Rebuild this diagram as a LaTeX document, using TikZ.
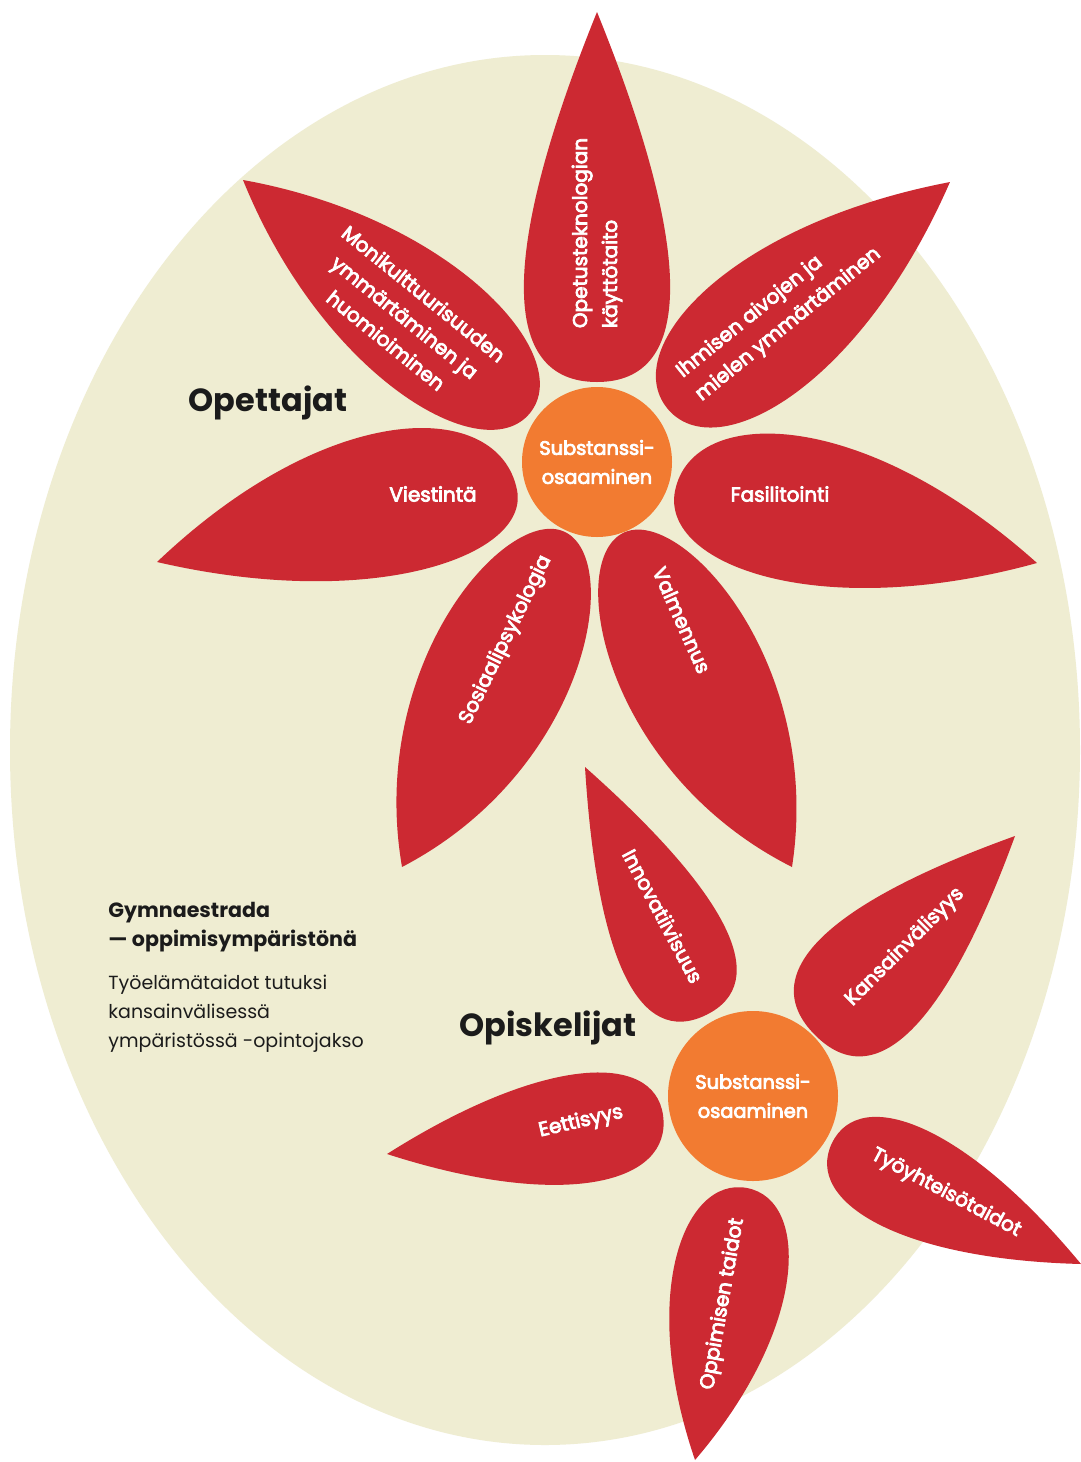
\documentclass[tikz,border=0pt]{standalone}
\usepackage{fontspec}
\setmainfont{Poppins}
\newfontfamily\lblfont{Poppins}[BoldFont={*}, BoldFeatures={FakeBold=4}]
\usetikzlibrary{calc}
\definecolor{petalred}{HTML}{CC2932}
\definecolor{bgbeige}{HTML}{EFEDD2}
\definecolor{centerorange}{HTML}{F27B31}
\definecolor{inkdark}{HTML}{1B1B1B}

% #1,#2 base (round end), #3,#4 tip, #5 half width (clockwise side), #6 half width (other side),
% #7 roundness of the base, #8 position of the widest part (fraction of length)
\newcommand\drawpetal[8]{%
  \pgfmathsetmacro\pL{veclen(#3-#1,#4-#2)}%
  \pgfmathsetmacro\pA{atan2(#2-#4,#3-#1)}%
  \pgfmathsetmacro\pKa{#7*#5}%
  \pgfmathsetmacro\pNa{(2.6-#7)*#5}%
  \pgfmathsetmacro\pKb{#7*#6}%
  \pgfmathsetmacro\pNb{(2.6-#7)*#6}%
  \pgfmathsetmacro\pM{#8*\pL}%
  \fill[petalred,shift={(#1,#2)},rotate=\pA] (0,0) .. controls (0,\pKa) and (\pM,\pNa) .. (\pL,0) .. controls (\pM,-\pNb) and (0,-\pKb) .. (0,0) -- cycle;%
}

\tikzset{
  lbl/.style={text=white, font=\lblfont\bfseries\fontsize{10}{15}\selectfont, align=center, inner sep=0pt},
  hub/.style={circle, fill=centerorange, text=white, font=\lblfont\bfseries\fontsize{9.7}{14.5}\selectfont, align=center, inner sep=0pt},
  title/.style={text=inkdark, font=\fontsize{16}{19}\selectfont\bfseries, inner sep=0pt},
}

\begin{document}
\begin{tikzpicture}[x=0.5pt,y=-0.5pt]
\useasboundingbox[fill=white] (0,0) rectangle (1081,1462);
\fill[bgbeige] (545,750) ellipse [x radius=535, y radius=695];

% upper flower petals
\drawpetal{597}{382}{597}{12}{75}{75}{1.3}{0.35}
\drawpetal{667}{408}{950}{182}{70}{70}{1.1}{0.45}
\drawpetal{530}{413}{243}{180}{68}{68}{1.1}{0.5}
\drawpetal{517}{490}{157}{562}{85}{61}{1.1}{0.45}
\drawpetal{675}{491}{1037}{563}{68}{80}{1.1}{0.45}
\drawpetal{565}{532}{402}{867}{71}{73}{0.9}{0.55}
\drawpetal{623}{533}{792}{867}{73}{71}{0.9}{0.55}

% lower flower petals
\drawpetal{706}{1015}{585}{767}{57}{57}{1.3}{0.35}
\drawpetal{815}{1035}{1015}{836}{66}{66}{1.3}{0.35}
\drawpetal{663}{1115}{387}{1154}{54}{58}{1.2}{0.4}
\drawpetal{832}{1143}{1081}{1264}{54}{54}{1.2}{0.4}
\drawpetal{747}{1188}{695}{1460}{58}{58}{1.1}{0.45}

% hubs
\node[hub, minimum size=75pt] (hubA) at (597,462) {Substanssi-\\osaaminen};
\node[hub, minimum size=85pt] (hubB) at (753,1096) {Substanssi-\\osaaminen};

% labels upper
\node[lbl, align=left, rotate=90] (lTop) at (597,233) {Opetusteknologian\\käyttötaito};
\node[lbl, rotate=-39] (lMoni) at (405,317) {Monikulttuurisuuden\\ymmärtäminen ja\\huomioiminen};
\node[lbl, align=left, rotate=39] (lIhm) at (779,313) {Ihmisen aivojen ja\\mielen ymmärtäminen};
\node[lbl] (lVie) at (433,494) {Viestintä};
\node[lbl] (lFas) at (780,494) {Fasilitointi};
\node[lbl, rotate=64] (lSos) at (506,640) {Sosiaalipsykologia};
\node[lbl, rotate=-66] (lVal) at (682,620) {Valmennus};

% labels lower
\node[lbl, rotate=-62] (lInn) at (663,916) {Innovatiivisuus};
\node[lbl, rotate=45] (lKan) at (905,947) {Kansainvälisyys};
\node[lbl, rotate=13] (lEet) at (581,1122) {Eettisyys};
\node[lbl, rotate=-28] (lTyo) at (946,1193) {Työyhteisötaidot};
\node[lbl, rotate=80] (lOpp) at (723,1304) {Oppimisen taidot};

% titles
\node[title] (tOpe) at (268,403) {Opettajat};
\node[title] (tOpi) at (548,1028) {Opiskelijat};

% info block
\node[anchor=north west, align=left, inner sep=0pt, text=inkdark, font=\fontsize{10.3}{14.3}\selectfont\bfseries] (info1) at (108,902) {Gymnaestrada\\— oppimisympäristönä};
\node[anchor=north west, align=left, inner sep=0pt, text=inkdark, font=\fontsize{9.5}{14.5}\selectfont] (info2) at (108,975) {Työelämätaidot tutuksi\\kansainvälisessä\\ympäristössä -opintojakso};
\end{tikzpicture}
\end{document}
